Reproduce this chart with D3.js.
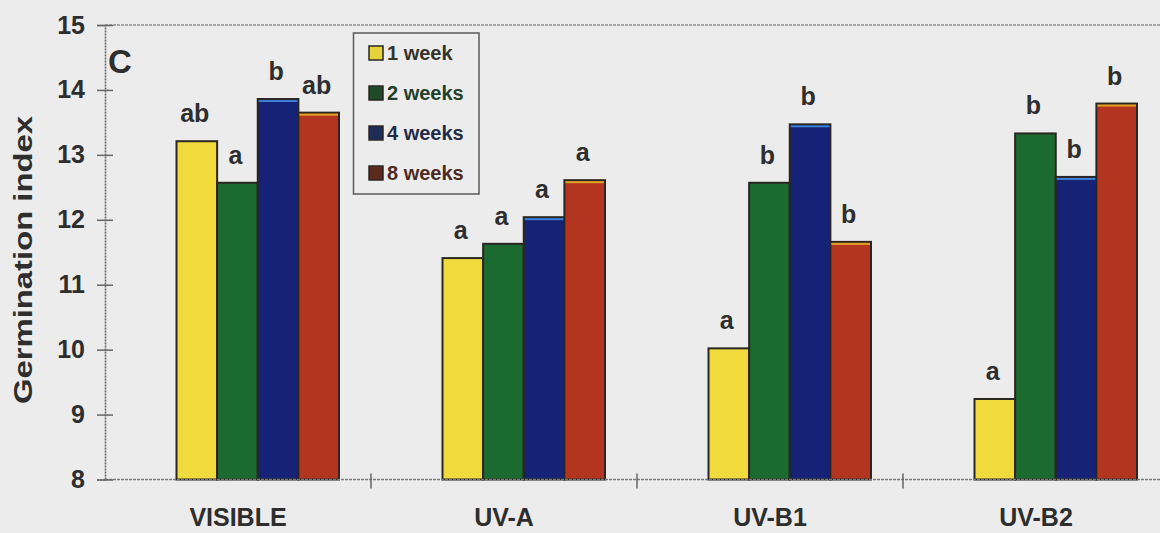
<!DOCTYPE html>
<html>
<head>
<meta charset="utf-8">
<script src="https://cdn.jsdelivr.net/npm/d3@7"></script>
<style>
  html, body { margin: 0; padding: 0; background: #ececec; }
  svg { display: block; }
  text { font-family: Arial, "Liberation Sans", sans-serif; font-weight: bold; }
</style>
</head>
<body>
<svg id="chart" width="1160" height="533"></svg>
<script>
// Light treatments and storage times
const categories = ["VISIBLE", "UV-A", "UV-B1", "UV-B2"];
const series = ["1 week", "2 weeks", "4 weeks", "8 weeks"];

// Germination index per treatment, one array per storage time
const week1 = [13.21, 11.41, 10.02, 9.24];
const week2 = [12.57, 11.63, 12.57, 13.33];
const week4 = [13.86, 12.04, 13.47, 12.66];
const week8 = [13.65, 12.61, 11.66, 13.79];

// Significance letters per storage time
const letters1 = ["ab", "a", "a", "a"];
const letters2 = ["a", "a", "b", "b"];
const letters4 = ["b", "a", "b", "b"];
const letters8 = ["ab", "a", "b", "b"];

const yTicks = [8, 9, 10, 11, 12, 13, 14, 15];

const fills = ["#f1db3c", "#1b6b30", "#162275", "#b3351f"];
const topAccent = [null, null, "#3d7fd4", "#e0a424"];
const swatchFills = ["#e6d23a", "#1f4a2a", "#1f2c58", "#5b2b1f"];
const legendText = ["#34332a", "#22402a", "#222b48", "#4c2a22"];

const valueRows = [week1, week2, week4, week8];
const letterRows = [letters1, letters2, letters4, letters8];

const data = [];
categories.forEach((c, ci) => {
  series.forEach((s, si) => {
    data.push({ cat: c, s: s, si: si, v: valueRows[si][ci], lab: letterRows[si][ci] });
  });
});

const svg = d3.select("#chart");
const plotL = 105, plotR = 1169, plotT = 25, plotB = 479.5;

const x0 = d3.scaleBand().domain(categories).range([plotL, plotR]).padding(0);
const x1 = d3.scaleBand().domain(series).range([71.5, 234]).padding(0);
const y = d3.scaleLinear().domain([8, 15]).range([plotB, plotT]);

// Top frame line
svg.append("line").attr("x1", plotL).attr("x2", 1160).attr("y1", plotT).attr("y2", plotT)
  .attr("stroke", "#8d8d8d").attr("stroke-width", 1.6).attr("stroke-dasharray", "3,1");

// Bars
const g = svg.append("g");
g.selectAll("rect.bar").data(data).join("rect")
  .attr("class", "bar")
  .attr("x", d => x0(d.cat) + x1(d.s))
  .attr("width", x1.bandwidth())
  .attr("y", d => y(d.v))
  .attr("height", d => y(8) - y(d.v))
  .attr("fill", d => fills[d.si])
  .attr("stroke", "#2a2622")
  .attr("stroke-width", 2);

// Thin coloured rim along the top of some bars
g.selectAll("rect.rim").data(data.filter(d => topAccent[d.si])).join("rect")
  .attr("class", "rim")
  .attr("x", d => x0(d.cat) + x1(d.s) + 1)
  .attr("width", x1.bandwidth() - 2)
  .attr("y", d => y(d.v) + 1)
  .attr("height", 2)
  .attr("fill", d => topAccent[d.si]);

// Letters above bars
g.selectAll("text.lab").data(data).join("text")
  .attr("class", "lab")
  .attr("x", d => x0(d.cat) + x1(d.s) + x1.bandwidth() / 2 - 2)
  .attr("y", d => y(d.v) - 19)
  .attr("text-anchor", "middle")
  .attr("font-size", 25)
  .attr("fill", "#2e2e2e")
  .text(d => d.lab);

// Bottom axis line with crossing ticks between categories
svg.append("line").attr("x1", plotL).attr("x2", 1160).attr("y1", plotB).attr("y2", plotB)
  .attr("stroke", "#7a7a7a").attr("stroke-width", 1.6).attr("stroke-dasharray", "3,1");
const boundaries = categories.slice(1);
svg.selectAll("line.xt").data(boundaries).join("line")
  .attr("class", "xt")
  .attr("x1", d => x0(d)).attr("x2", d => x0(d))
  .attr("y1", plotB - 6).attr("y2", plotB + 9)
  .attr("stroke", "#666").attr("stroke-width", 1.5);

// Category labels
svg.selectAll("text.cat").data(categories).join("text")
  .attr("class", "cat")
  .attr("x", d => x0(d) + x0.bandwidth() / 2)
  .attr("y", 526)
  .attr("text-anchor", "middle")
  .attr("font-size", 25)
  .attr("fill", "#2e2e2e")
  .text(d => d);

// Y axis
const yAxis = d3.axisLeft(y).tickValues(yTicks).tickSize(8).tickPadding(12).tickFormat(d3.format("d"));
const ya = svg.append("g").attr("transform", `translate(${plotL},0)`).call(yAxis);
ya.select(".domain").attr("stroke", "#666").attr("stroke-width", 1.6).attr("stroke-dasharray", "2,1");
ya.selectAll(".tick line").attr("x1", 8).attr("x2", -8).attr("stroke", "#666").attr("stroke-width", 1.5);
ya.selectAll(".tick text").attr("font-size", 25).attr("fill", "#2e2e2e")
  .attr("font-family", "Arial, 'Liberation Sans', sans-serif").attr("font-weight", "bold");

// Y axis title
svg.append("text")
  .attr("transform", "translate(32,260) rotate(-90)")
  .attr("text-anchor", "middle")
  .attr("font-size", 26)
  .attr("textLength", 288)
  .attr("lengthAdjust", "spacingAndGlyphs")
  .attr("fill", "#2e2e2e")
  .text("Germination index");

// Panel letter
svg.append("text").attr("x", 108).attr("y", 73).attr("font-size", 33).attr("fill", "#2e2e2e").text("C");

// Legend
const lg = svg.append("g");
lg.append("rect").attr("x", 353.5).attr("y", 33).attr("width", 125.5).attr("height", 161)
  .attr("fill", "none").attr("stroke", "#5a5a5a").attr("stroke-width", 1.5);
const rowY = d3.scalePoint().domain(series).range([53, 173]);
const items = lg.selectAll("g.item").data(series).join("g").attr("class", "item")
  .attr("transform", d => `translate(0,${rowY(d)})`);
items.append("rect").attr("x", 369).attr("y", -7).attr("width", 14).attr("height", 14)
  .attr("fill", (d, i) => swatchFills[i]).attr("stroke", "#2a2622").attr("stroke-width", 1.5);
items.append("text").attr("x", 387).attr("y", 7).attr("font-size", 20)
  .attr("fill", (d, i) => legendText[i]).text(d => d);
</script>
</body>
</html>
